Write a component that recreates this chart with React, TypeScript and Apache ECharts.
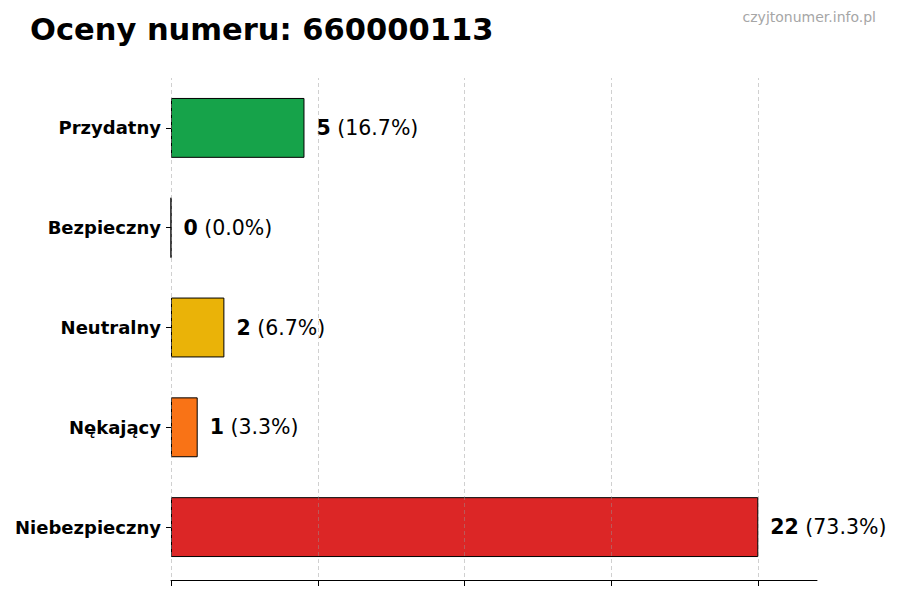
import { useEffect, useRef } from 'react';
import * as echarts from 'echarts';

const categories = ['Niebezpieczny', 'Nękający', 'Neutralny', 'Bezpieczny', 'Przydatny'];
const counts = [22, 1, 2, 0, 5];
const percents = ['73.3%', '3.3%', '6.7%', '0.0%', '16.7%'];
const barColors = ['#dc2626', '#f97316', '#eab308', '#6b7280', '#16a34a'];
const tickValues = [0, 5.5, 11, 16.5, 22];

const FONT = '"DejaVu Sans", sans-serif';

export default function App() {
  const chartRef = useRef<HTMLDivElement>(null);

  useEffect(() => {
    if (!chartRef.current) return;
    const chart = echarts.init(chartRef.current, null, { renderer: 'svg' });

    const option = {
      animation: false,
      textStyle: { fontFamily: FONT },
      title: {
        text: 'Oceny numeru: 660000113',
        left: 25,
        top: 9,
        textStyle: { fontFamily: FONT, fontSize: 30.5, fontWeight: 'bold', color: '#000' },
      },
      graphic: [
        {
          type: 'text',
          right: 24,
          top: 10,
          style: { text: 'czyjtonumer.info.pl', fill: '#a6a6a6', fontSize: 14, fontFamily: FONT },
        },
      ],
      grid: { left: 171, right: 83, top: 78, bottom: 23, containLabel: false },
      xAxis: {
        type: 'value',
        min: 0,
        max: 24.2,
        interval: 5.5,
        offset: 3,
        axisLine: { show: true, lineStyle: { color: '#000', width: 1 } },
        axisTick: { show: true, length: 6, customValues: tickValues, lineStyle: { color: '#000' } },
        axisLabel: { show: false },
        splitLine: { show: false },
      },
      yAxis: {
        type: 'category',
        data: categories,
        axisLine: { show: false },
        axisTick: { show: true, length: 5, alignWithLabel: true, lineStyle: { color: '#000' } },
        axisLabel: {
          color: '#000',
          fontFamily: FONT,
          fontWeight: 'bold',
          fontSize: 18,
          margin: 10,
        },
      },
      series: [
        {
          type: 'bar',
          barWidth: '60%',
          data: counts.map((v, i) => ({
            value: v,
            itemStyle: { color: barColors[i], borderColor: '#000', borderWidth: 1 },
          })),
          label: {
            show: true,
            position: 'right',
            distance: 12,
            formatter: (p: any) => `{b|${counts[p.dataIndex]}}{n| (${percents[p.dataIndex]})}`,
            rich: {
              b: { fontFamily: FONT, fontWeight: 'bold', fontSize: 20.5, color: '#000' },
              n: { fontFamily: FONT, fontSize: 20.5, color: '#000' },
            },
          },
          markLine: {
            silent: true,
            symbol: 'none',
            label: { show: false },
            lineStyle: { color: 'rgba(150,150,150,0.45)', type: [4, 3], width: 1 },
            data: tickValues.map((v) => ({ xAxis: v })),
          },
        },
      ],
    };

    chart.setOption(option);
    return () => chart.dispose();
  }, []);

  return (
    <div
      ref={chartRef}
      style={{ position: 'fixed', left: 0, top: 0, width: 900, height: 600, background: '#fff' }}
    />
  );
}
